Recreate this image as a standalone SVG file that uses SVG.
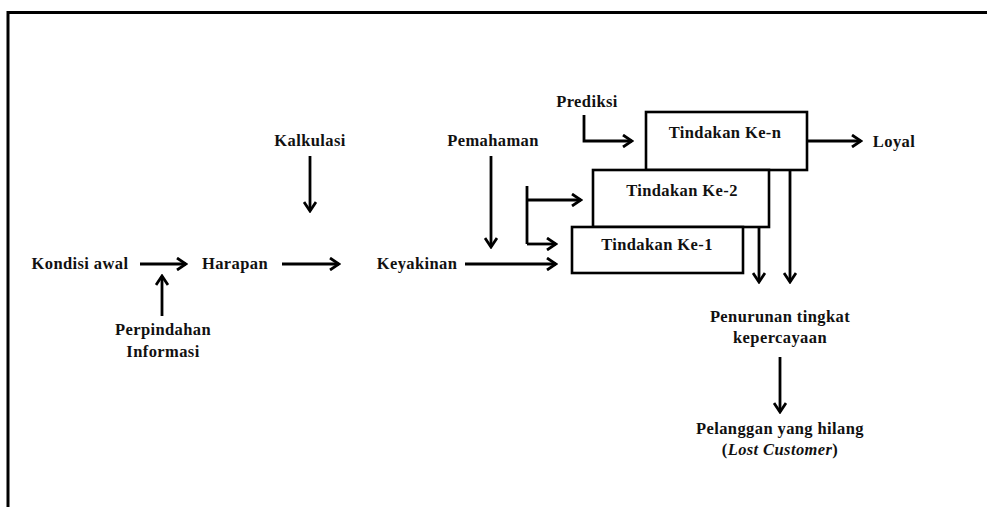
<svg xmlns="http://www.w3.org/2000/svg" width="987" height="507" viewBox="0 0 987 507">
<defs>
<marker id="ah" viewBox="0 0 14 14" refX="12" refY="7" markerWidth="14" markerHeight="14" markerUnits="userSpaceOnUse" orient="auto">
<path d="M3,1 L12,7 L3,13" fill="none" stroke="#000" stroke-width="2.8" stroke-linejoin="miter"/>
</marker>
<style>
text{font-family:"Liberation Serif","Times New Roman",serif;font-weight:bold;font-size:16.5px;fill:#111;text-anchor:middle;letter-spacing:0.4px}
.c{fill:none;stroke:#000;stroke-width:2.8}
.a{marker-end:url(#ah)}
.box{fill:#fff;stroke:#000;stroke-width:2.6}
</style>
</defs>
<g id="frame"><path d="M8,507 V12.5 H987" fill="none" stroke="#000" stroke-width="3"/></g>
<g id="connectors">
<path class="c a" d="M140,264 H186"/>
<path class="c a" d="M162,316 V276"/>
<path class="c a" d="M282,264 H339"/>
<path class="c a" d="M310,156 V211"/>
<path class="c a" d="M491,156 V247"/>
<path class="c a" d="M465,264 H556"/>
<path class="c a" d="M527,200 H581"/>
<path class="c" d="M527,186 V244"/>
<path class="c a" d="M527,244 H556"/>
<path class="c a" d="M584,115 V141 H632"/>
<path class="c a" d="M807,141 H861"/>
<path class="c a" d="M759,227 V282"/>
<path class="c a" d="M790,170 V282"/>
<path class="c a" d="M780,357 V412"/>
</g>
<g id="n-ke-n"><rect class="box" x="646" y="112" width="161" height="58"/><text x="725" y="138">Tindakan Ke-n</text></g>
<g id="n-ke-2"><rect class="box" x="593" y="170" width="176" height="57"/><text x="682" y="196">Tindakan Ke-2</text></g>
<g id="n-ke-1"><rect class="box" x="572" y="227" width="171" height="46"/><text x="657" y="250">Tindakan Ke-1</text></g>
<g id="n-kondisi"><text x="80" y="269">Kondisi awal</text></g>
<g id="n-harapan"><text x="235" y="269">Harapan</text></g>
<g id="n-perpindahan"><text x="163" y="335">Perpindahan</text><text x="163" y="357">Informasi</text></g>
<g id="n-kalkulasi"><text x="310" y="146">Kalkulasi</text></g>
<g id="n-pemahaman"><text x="493" y="146">Pemahaman</text></g>
<g id="n-keyakinan"><text x="417" y="269">Keyakinan</text></g>
<g id="n-prediksi"><text x="587" y="107">Prediksi</text></g>
<g id="n-loyal"><text x="894" y="147">Loyal</text></g>
<g id="n-penurunan"><text x="780" y="322">Penurunan tingkat</text><text x="780" y="343">kepercayaan</text></g>
<g id="n-lost"><text x="780" y="434">Pelanggan yang hilang</text><text x="780" y="455">(<tspan font-style="italic">Lost Customer</tspan>)</text></g>
</svg>
